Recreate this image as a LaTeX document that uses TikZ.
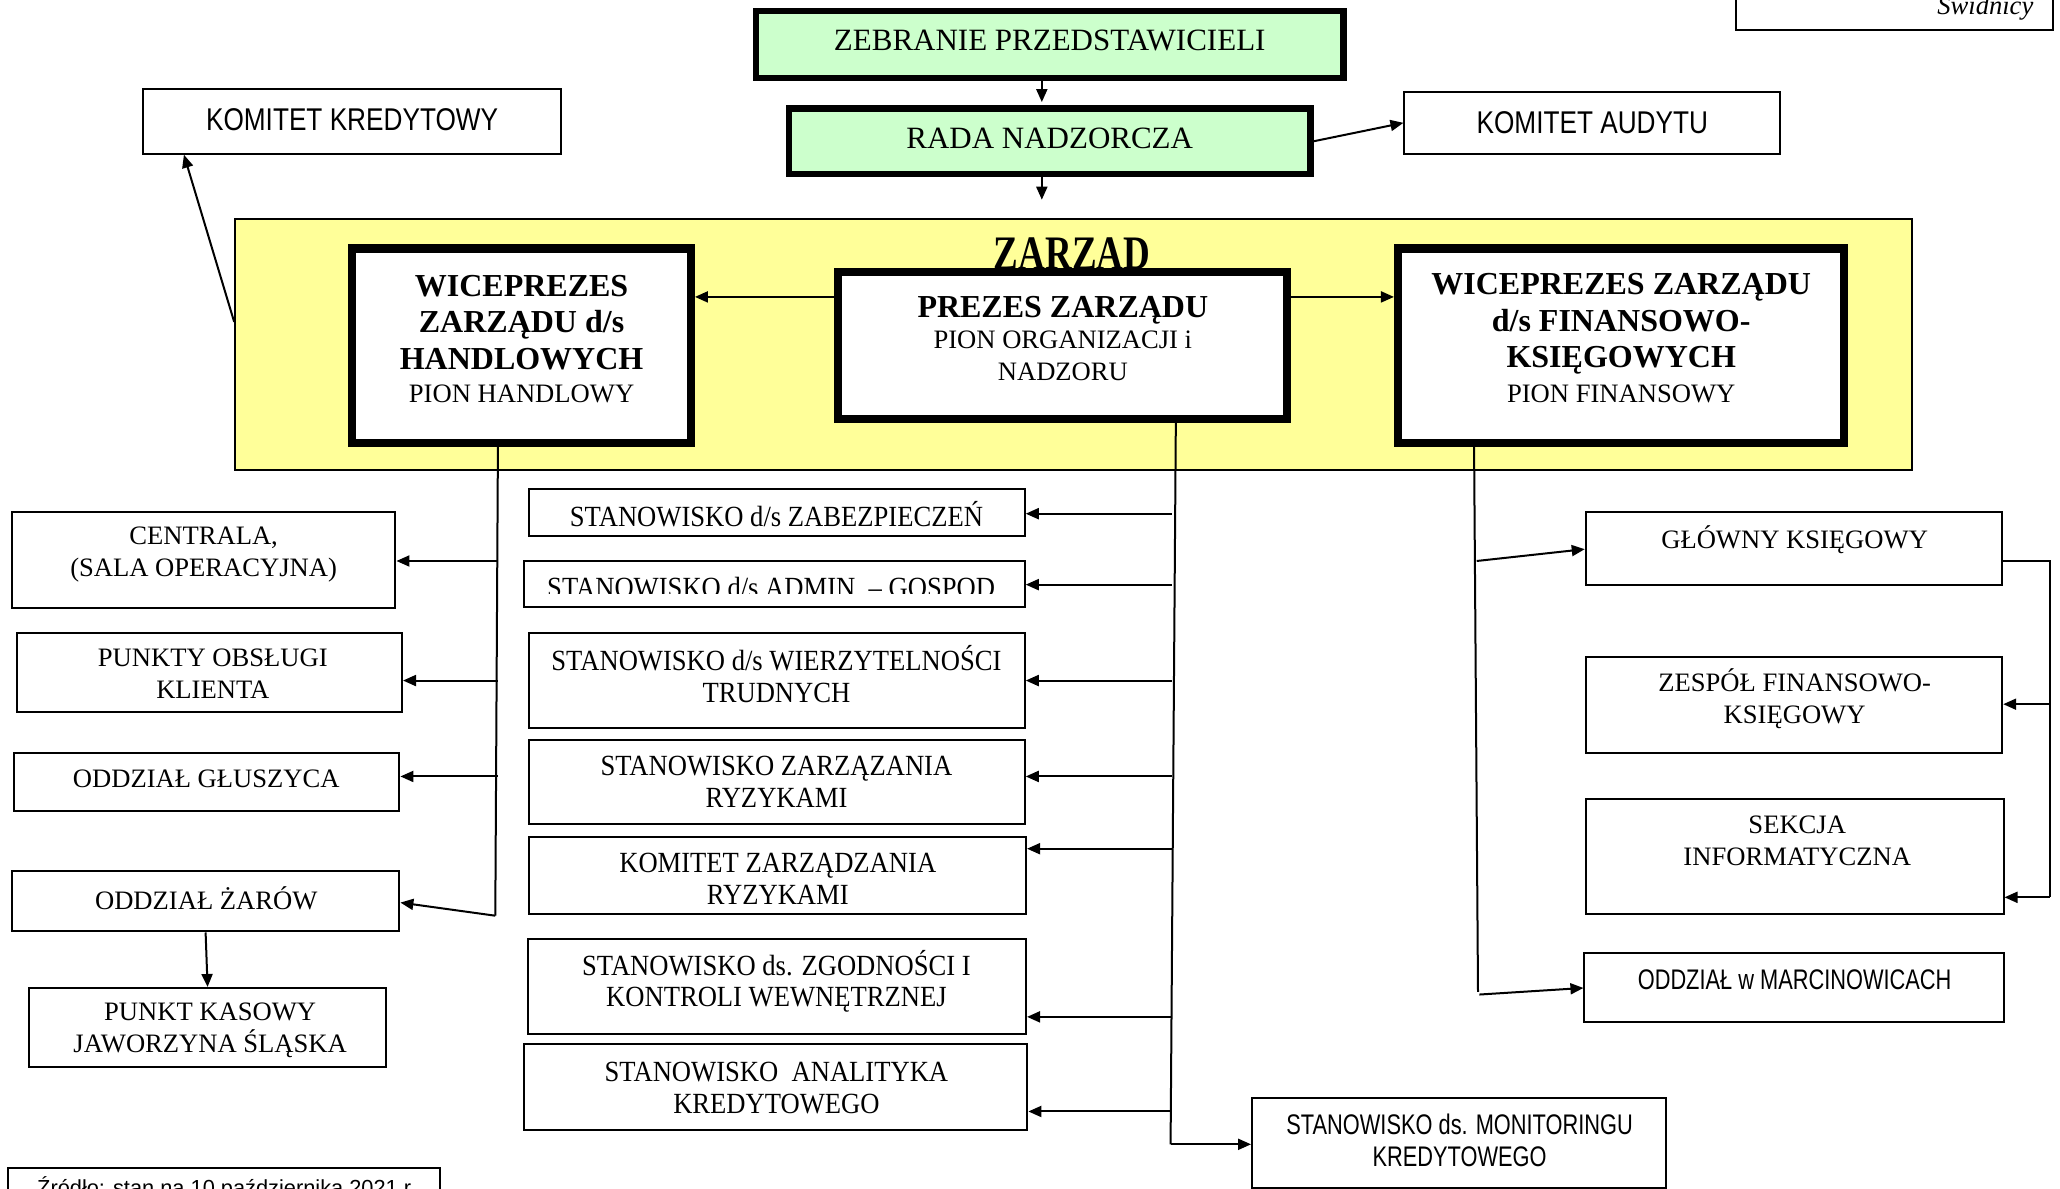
\documentclass[tikz,border=0pt]{standalone}
\usepackage{fontspec}
\usepackage{graphicx}
\setmainfont{Liberation Serif}
\setsansfont{Liberation Sans}
\usetikzlibrary{arrows.meta,fit,calc}
\definecolor{grn}{HTML}{CCFFCC}
\definecolor{ylw}{HTML}{FFFF99}
\newcommand\fsA{\fontsize{13.3}{15.8}\selectfont}
\newcommand\fsB{\fontsize{16}{18.1}\selectfont\bfseries}
\newcommand\fsG{\fontsize{15.5}{18}\selectfont}
\newcommand\fsZ{\fontsize{18.5}{20}\selectfont\bfseries}
\newcommand\fsS{\sffamily\fontsize{13.1}{15.8}\selectfont}
\newcommand\fsN{\sffamily\fontsize{10.9}{15.8}\selectfont}
\newcommand\tall[2]{\scalebox{1}[#1]{#2}}
\begin{document}
\begin{tikzpicture}[x=0.6569pt,y=-0.6569pt,
  box/.style={draw, line width=1pt, fill=white, inner sep=0pt},
  gbox/.style={draw, line width=3.3pt, fill=grn, inner sep=0pt},
  dbox/.style={draw, line width=3.9pt, fill=white, inner sep=0pt},
  ybox/.style={draw, line width=1pt, fill=ylw, inner sep=0pt},
  arr/.style={-{Triangle[length=6.5pt,width=5.5pt]}, line width=1pt},
  ln/.style={line width=1pt},
  thinframe/.style={line width=0.9pt},
  txt/.style={align=center, inner sep=0pt}]
\useasboundingbox (0,0) rectangle (1568,905);
\clip (0,0) rectangle (1568,905);
\fill[white] (0,0) rectangle (1568,905);

% partial boxes at the edges
\node[box, fit={(1321,-10) (1563,23)}] (swd) {};
\node[anchor=base east, font=\fsA\itshape, inner sep=0pt] (tswd) at (1548,10.7) {Świdnicy};
\node[box, fit={(6,889) (335,930)}] (src) {};
\node[anchor=base west, font=\fsN, inner sep=0pt] (tsrc) at (28,910) {Źródło: stan na 10 października 2021 r.};

% governance
\node[gbox, fit={(575.5,8.5) (1022.5,59.5)}] (zeb) {};
\node[txt, font=\fsG] (tzeb) at (799,31) {ZEBRANIE PRZEDSTAWICIELI};
\node[gbox, fit={(600.5,82.5) (997.5,132.5)}] (rada) {};
\node[txt, font=\fsG] (trada) at (799,105) {RADA NADZORCZA};
\coordinate (cx) at (793,0);
\coordinate (rdown) at (793,152);
\draw[arr, shorten >=1.5pt] (zeb.south -| cx) -- (rada.north -| cx);
\draw[arr] (rada.south -| cx) -- (rdown);

\node[box, fit={(1069,70) (1355,117)}] (aud) {};
\node[txt, font=\fsS] (taud) at (1212,93) {\tall{1.2}{KOMITET AUDYTU}};
\draw[arr] (rada.east) -- (aud.west);

\node[box, fit={(109,68) (427,117)}] (kred) {};
\node[txt, font=\fsS] (tkred) at (268,91) {\tall{1.2}{KOMITET KREDYTOWY}};

% zarzad
\node[ybox, fit={(179,167) (1455,358)}] (zarz) {};
\node[anchor=base, font=\fsZ, inner sep=0pt] (tzarz) at (816,205) {\tall{1.3}{ZARZĄD}};
\coordinate (kz) at (180,245);
\coordinate (kk) at (140,0);
\draw[arr] (zarz.west |- kz) -- (kred.south -| kk);

\node[dbox, fit={(268,189) (526,337)}] (wl) {};
\draw[thinframe] ($(wl.north west)+(5.5,5.5)$) rectangle ($(wl.south east)+(-5.5,-5.5)$);
\node[txt, font=\fsB] (twl) at (397,245.5) {WICEPREZES\\ZARZĄDU d/s\\HANDLOWYCH};
\node[txt, font=\fsA] (twl2) at (397,300) {PION HANDLOWY};

\node[dbox, fit={(638,207) (980,319)}] (prez) {};
\draw[thinframe] ($(prez.north west)+(5.5,5.5)$) rectangle ($(prez.south east)+(-5.5,-5.5)$);
\node[txt, font=\fsB] (tprez) at (809,236) {PREZES ZARZĄDU};
\node[txt, font=\fsA] (tprez2) at (809,271) {PION ORGANIZACJI i\\NADZORU};

\node[dbox, fit={(1064,189) (1404,337)}] (wr) {};
\draw[thinframe] ($(wr.north west)+(5.5,5.5)$) rectangle ($(wr.south east)+(-5.5,-5.5)$);
\node[txt, font=\fsB] (twr) at (1234,246.5) {WICEPREZES ZARZĄDU\\d/s FINANSOWO-\\KSIĘGOWYCH};
\node[txt, font=\fsA] (twr2) at (1234,300) {PION FINANSOWY};

\coordinate (hy) at (0,226);
\draw[arr] (prez.west |- hy) -- (wl.east |- hy);
\draw[arr] (prez.east |- hy) -- (wr.west |- hy);

% left column
\coordinate (lx) at (379,0);
\coordinate (lend) at (377,697);
\draw[ln] (wl.south -| lx) -- (lend);

\node[box, fit={(9,390) (301,463)}] (cen) {};
\node[txt, font=\fsA] (tcen) at (155,422) {CENTRALA,\\(SALA OPERACYJNA)};
\node[box, fit={(13,482) (306,542)}] (pkt) {};
\node[txt, font=\fsA] (tpkt) at (162,513) {PUNKTY OBSŁUGI\\KLIENTA};
\node[box, fit={(11,573) (304,617)}] (glu) {};
\node[txt, font=\fsA] (tglu) at (157,593) {ODDZIAŁ GŁUSZYCA};
\node[box, fit={(9,663) (304,709)}] (zar) {};
\node[txt, font=\fsA] (tzar) at (157,684) {ODDZIAŁ ŻARÓW};
\node[box, fit={(22,752) (294,812)}] (kas) {};
\node[txt, font=\fsA] (tkas) at (160,784) {PUNKT KASOWY\\JAWORZYNA ŚLĄSKA};

\coordinate (ya) at (0,427);
\coordinate (yb) at (0,518);
\coordinate (yc) at (0,591);
\coordinate (yd) at (0,687);
\draw[arr] (lx |- ya) -- (cen.east |- ya);
\draw[arr] (lx |- yb) -- (pkt.east |- yb);
\draw[arr] (lx |- yc) -- (glu.east |- yc);
\draw[arr] (lend) -- (zar.east |- yd);
\draw[arr] (zar.south) -- (kas.north);

% middle column
\coordinate (mtop) at (895,0);
\coordinate (mbot) at (891,871);
\coordinate (mx) at (892,0);
\draw[ln] (prez.south -| mtop) -- (mbot);

\node[box, fit={(403,372) (780,408)}] (zab) {};
\node[txt, font=\fsA] (tzab) at (591,391.5) {\tall{1.1}{STANOWISKO d/s ZABEZPIECZEŃ}};
\node[box, fit={(399,427) (780,462)}] (adm) {};
\begin{scope}
\clip (400,428) rectangle (779,451.5);
\node[anchor=base, font=\fsA, inner sep=0pt] (tadm) at (589.5,454.5) {\tall{1.1}{STANOWISKO d/s ADMIN. – GOSPOD.}};
\end{scope}
\node[box, fit={(403,482) (780,554)}] (wie) {};
\node[txt, font=\fsA] (twie) at (591,513) {\tall{1.1}{STANOWISKO d/s WIERZYTELNOŚCI}\\\tall{1.1}{TRUDNYCH}};
\node[box, fit={(403,563) (780,627)}] (szr) {};
\node[txt, font=\fsA] (tszr) at (591,595) {\tall{1.1}{STANOWISKO ZARZĄZANIA}\\\tall{1.1}{RYZYKAMI}};
\node[box, fit={(403,637) (781,696)}] (kzr) {};
\node[txt, font=\fsA] (tkzr) at (592,669) {\tall{1.1}{KOMITET ZARZĄDZANIA}\\\tall{1.1}{RYZYKAMI}};
\node[box, fit={(402,715) (781,787)}] (zgo) {};
\node[txt, font=\fsA] (tzgo) at (591,747) {\tall{1.1}{STANOWISKO ds. ZGODNOŚCI I}\\\tall{1.1}{KONTROLI WEWNĘTRZNEJ}};
\node[box, fit={(399,795) (782,860)}] (ana) {};
\node[txt, font=\fsA] (tana) at (591,828) {\tall{1.1}{STANOWISKO\ \ ANALITYKA}\\\tall{1.1}{KREDYTOWEGO}};
\node[box, fit={(953,836) (1268,904)}] (mon) {};
\node[txt, font=\fsN] (tmon) at (1111,868) {\tall{1.3}{STANOWISKO ds. MONITORINGU}\\\tall{1.3}{KREDYTOWEGO}};

\coordinate (m1) at (0,391);
\coordinate (m2) at (0,445);
\coordinate (m3) at (0,518);
\coordinate (m4) at (0,591);
\coordinate (m5) at (0,646);
\coordinate (m6) at (0,774);
\coordinate (m7) at (0,846);
\draw[arr] (mx |- m1) -- (zab.east |- m1);
\draw[arr] (mx |- m2) -- (adm.east |- m2);
\draw[arr] (mx |- m3) -- (wie.east |- m3);
\draw[arr] (mx |- m4) -- (szr.east |- m4);
\draw[arr] (mx |- m5) -- (kzr.east |- m5);
\draw[arr] (mx |- m6) -- (zgo.east |- m6);
\draw[arr] (mx |- m7) -- (ana.east |- m7);
\draw[arr] (mbot) -- (mon.west |- mbot);

% right column
\coordinate (rtop) at (1122,0);
\coordinate (rbot) at (1125,755);
\draw[ln] (wr.south -| rtop) -- (rbot);

\node[box, fit={(1207,390) (1524,445)}] (glk) {};
\node[txt, font=\fsA] (tglk) at (1366,411) {GŁÓWNY KSIĘGOWY};
\node[box, fit={(1207,500) (1524,573)}] (zes) {};
\node[txt, font=\fsA] (tzes) at (1366,532) {ZESPÓŁ FINANSOWO-\\KSIĘGOWY};
\node[box, fit={(1207,608) (1525,696)}] (sek) {};
\node[txt, font=\fsA] (tsek) at (1368,640) {SEKCJA\\INFORMATYCZNA};
\node[box, fit={(1206,725) (1525,778)}] (mar) {};
\node[txt, font=\fsN] (tmar) at (1366,746) {\tall{1.3}{ODDZIAŁ w MARCINOWICACH}};

\coordinate (rg) at (1124,427);
\coordinate (yg) at (0,418);
\coordinate (rm) at (1126,757);
\coordinate (ym) at (0,752);
\draw[arr] (rg) -- (glk.west |- yg);
\draw[arr] (rm) -- (mar.west |- ym);

\coordinate (bx) at (1560,0);
\coordinate (y1) at (0,427);
\coordinate (y2) at (0,536);
\coordinate (y3) at (0,683);
\draw[ln] (glk.east |- y1) -- (bx |- y1) -- (bx |- y3);
\draw[arr] (bx |- y2) -- (zes.east |- y2);
\draw[arr] (bx |- y3) -- (sek.east |- y3);
\end{tikzpicture}
\end{document}
